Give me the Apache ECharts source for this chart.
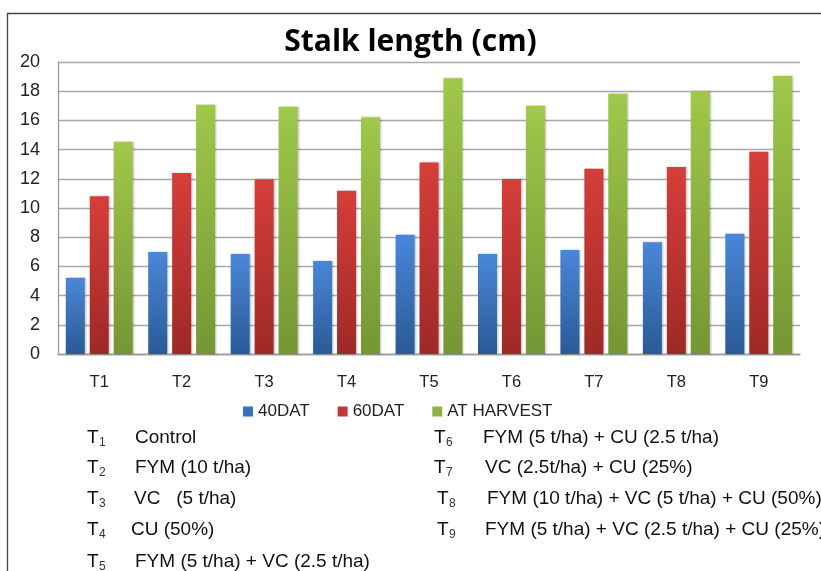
<!DOCTYPE html>
<html>
<head>
<meta charset="utf-8">
<script src="https://cdn.jsdelivr.net/npm/echarts@6/dist/echarts.min.js"></script>
<style>
html,body{margin:0;padding:0;background:#fff;}
#chart{width:821px;height:571px;}
</style>
</head>
<body>
<div id="chart"></div>
<script>
const categories = ['T1','T2','T3','T4','T5','T6','T7','T8','T9'];
const seriesNames = ['40DAT','60DAT','AT HARVEST'];
const dat40 = [5.23, 6.99, 6.85, 6.37, 8.17, 6.85, 7.12, 7.65, 8.24];
const dat60 = [10.8, 12.4, 11.96, 11.18, 13.12, 11.98, 12.69, 12.8, 13.86];
const harvest = [14.54, 17.07, 16.94, 16.2, 18.88, 17.0, 17.83, 18.0, 19.04];
const yTicks = [0,2,4,6,8,10,12,14,16,18,20];
const treatmentSubs = ['1','2','3','4','5','6','7','8','9'];
const treatmentDescs = [
  'Control',
  'FYM (10 t/ha)',
  'VC   (5 t/ha)',
  'CU (50%)',
  'FYM (5 t/ha) + VC (2.5 t/ha)',
  'FYM (5 t/ha) + CU (2.5 t/ha)',
  'VC (2.5t/ha) + CU (25%)',
  'FYM (10 t/ha) + VC (5 t/ha) + CU (50%)',
  'FYM (5 t/ha) + VC (2.5 t/ha) + CU (25%)'
];

const chart = echarts.init(document.getElementById('chart'), null, {renderer:'canvas'});

function grad(top, bottom){
  return {type:'linear', x:0, y:0, x2:0, y2:1, colorStops:[{offset:0,color:top},{offset:1,color:bottom}]};
}
const palettes = [
  {top:'#4A87D8', bottom:'#2A5A96', flat:'#3A70BA'},
  {top:'#D63E3A', bottom:'#9E2926', flat:'#C0393A'},
  {top:'#A0C84A', bottom:'#749634', flat:'#8DB43F'}
];
const seriesData = [dat40, dat60, harvest];

const rowY = [438, 468, 499, 530, 562];
const descX = [135, 135, 134, 131, 135, 483, 485, 487, 485];
const codeX = [87, 87, 87, 87, 87, 434, 434, 437, 437];
const txtFont = '19px "Liberation Sans", Arial, sans-serif';
const graphics = [];
graphics.push({type:'rect', shape:{x:7.5, y:13.5, width:900, height:700}, style:{fill:'none', stroke:'#444', lineWidth:1.3}, silent:true, z:-1});
treatmentDescs.forEach((d,i)=>{
  const y = i < 5 ? rowY[i] : rowY[i-5];
  graphics.push({type:'text', x:codeX[i], y:y, style:{text:'T', font:txtFont, fill:'#111', textVerticalAlign:'middle'}});
  graphics.push({type:'text', x:codeX[i]+12, y:y+5, style:{text:treatmentSubs[i], font:'12px "Liberation Sans", Arial, sans-serif', fill:'#333', textVerticalAlign:'middle'}});
  graphics.push({type:'text', x:descX[i], y:y, style:{text:d, font:txtFont, fill:'#111', textVerticalAlign:'middle'}});
});

chart.setOption({
  animation:false,
  backgroundColor:'#fff',
  title:{
    text:'Stalk length (cm)',
    left:'center', top:22,
    textStyle:{fontFamily:'"Open Sans", sans-serif', fontWeight:'bold', fontSize:30, color:'#000'}
  },
  legend:{
    left:238, top:398,
    itemWidth:10, itemHeight:10, itemGap:28,
    icon:'rect',
    textStyle:{fontFamily:'"Liberation Sans", Arial, sans-serif', fontSize:17, color:'#222'},
    data: seriesNames.map((n,i)=>({name:n, itemStyle:{color:palettes[i].flat}}))
  },
  grid:{left:58, right:21, top:62, bottom:217, containLabel:false},
  xAxis:{
    type:'category', data:categories,
    axisLine:{lineStyle:{color:'#999', width:1.3}},
    axisTick:{show:false},
    axisLabel:{margin:20, fontFamily:'"Liberation Sans", Arial, sans-serif', fontSize:16.5, color:'#222'}
  },
  yAxis:{
    type:'value', min:yTicks[0], max:yTicks[yTicks.length-1], interval:2,
    axisLine:{show:true, lineStyle:{color:'#999', width:1.3}},
    axisTick:{show:false},
    splitLine:{lineStyle:{color:'#A8A8A8', width:1.3}},
    axisLabel:{margin:18, fontFamily:'"Liberation Sans", Arial, sans-serif', fontSize:18, color:'#222'}
  },
  series: seriesNames.map((n,i)=>({
    name:n, type:'bar', data:seriesData[i],
    barWidth:19, barGap:'26%',
    itemStyle:{color:grad(palettes[i].top, palettes[i].bottom), shadowColor:'rgba(0,0,0,0.25)', shadowBlur:2, shadowOffsetX:1}
  })),
  graphic: graphics
});
</script>
</body>
</html>
